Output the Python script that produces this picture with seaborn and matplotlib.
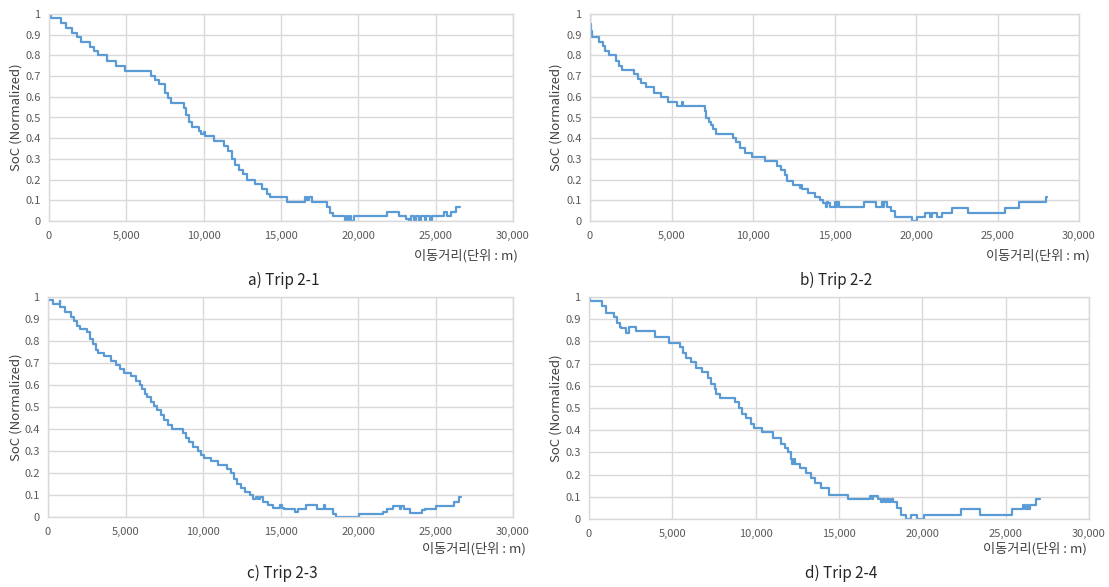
import matplotlib
matplotlib.use("Agg")
import matplotlib.pyplot as plt
import seaborn as sns
import pandas as pd
from matplotlib.ticker import FuncFormatter, MultipleLocator

# ---------------- data (distance in m, normalized SoC) ----------------
trip21_dist = [0, 100, 800, 1080, 1500, 1840, 2060, 2640, 2920, 3200, 3740, 4330, 4930,
               6600, 6880, 7100, 7510, 7680, 7900, 8700, 8870, 9050, 9240, 9700, 9850,
               10000, 10060, 10670, 11300, 11580, 11800, 12010, 12300, 12550, 12810, 13310,
               13740, 14070, 14290, 15370, 16560, 16700, 16780, 17000, 17970, 18180, 18330,
               19160, 19250, 19350, 19450, 19550, 19700, 21860, 22620, 23050, 23300, 23400,
               23600, 23700, 23950, 24050, 24300, 24400, 24650, 24740, 25540, 25750, 25970,
               26300, 26600]
trip21_soc = [1.0, 0.98, 0.955, 0.93, 0.91, 0.89, 0.865, 0.84, 0.82, 0.80, 0.775, 0.75, 0.725,
              0.70, 0.68, 0.66, 0.62, 0.595, 0.57, 0.545, 0.51, 0.48, 0.455, 0.435, 0.42,
              0.43, 0.41, 0.385, 0.36, 0.34, 0.30, 0.27, 0.245, 0.225, 0.20, 0.18,
              0.155, 0.13, 0.115, 0.093, 0.115, 0.10, 0.115, 0.093, 0.07, 0.04, 0.025,
              0.0, 0.025, 0.0, 0.025, 0.0, 0.025, 0.045, 0.025, 0.01, 0.0, 0.025,
              0.0, 0.025, 0.0, 0.025, 0.0, 0.025, 0.0, 0.025, 0.045, 0.025, 0.045,
              0.07, 0.07]

trip22_dist = [0, 30, 80, 150, 530, 780, 920, 1190, 1600, 1800, 1950, 2730, 2970, 3140, 3440,
               3950, 4360, 4770, 5330, 5640, 5680, 7030, 7130, 7270, 7440, 7540, 7750, 8770,
               8975, 9180, 9530, 9940, 10720, 11480, 11740, 11950, 12090, 12460, 12900, 12960,
               13020, 13380, 13790, 14120, 14290, 14490, 14540, 14580, 14730, 15000, 15080,
               15150, 15300, 16820, 17550, 17900, 17980, 18050, 18200, 18450, 18710, 19730,
               20040, 20550, 20860, 20960, 21300, 21570, 22180, 23200, 25450, 26330, 27960,
               28040]
trip22_soc = [1.0, 0.95, 0.92, 0.89, 0.865, 0.845, 0.82, 0.80, 0.775, 0.75, 0.73, 0.71, 0.685,
              0.665, 0.645, 0.62, 0.60, 0.575, 0.555, 0.575, 0.555, 0.53, 0.50, 0.48, 0.465,
              0.445, 0.42, 0.40, 0.38, 0.355, 0.33, 0.31, 0.29, 0.265, 0.245, 0.22, 0.195,
              0.175, 0.16, 0.175, 0.155, 0.135, 0.115, 0.10, 0.085, 0.07, 0.09, 0.085, 0.07,
              0.09, 0.07, 0.09, 0.07, 0.09, 0.07, 0.09, 0.07, 0.09, 0.07, 0.05, 0.02, 0.0,
              0.02, 0.04, 0.02, 0.04, 0.02, 0.04, 0.065, 0.04, 0.065, 0.09, 0.115, 0.115]

trip23_dist = [0, 300, 750, 800, 1080, 1490, 1700, 1880, 2050, 2530, 2740, 2890, 3070, 3240,
               3600, 4040, 4360, 4620, 4900, 5330, 5660, 5940, 6090, 6240, 6410, 6630, 6850,
               7060, 7280, 7490, 7710, 7970, 8680, 8900, 9110, 9370, 9650, 9870, 10090, 10520,
               10950, 11530, 11810, 12030, 12200, 12460, 12680, 13000, 13220, 13450, 13540,
               13700, 13880, 14200, 14530, 14960, 15100, 15210, 15920, 16140, 16630, 17370,
               17800, 17880, 18400, 18570, 20080, 21620, 21880, 22230, 22700, 22800, 22960,
               23340, 24100, 24350, 25060, 26180, 26530, 26630]
trip23_soc = [0.985, 0.97, 0.98, 0.955, 0.93, 0.91, 0.89, 0.87, 0.855, 0.84, 0.81, 0.785, 0.76,
              0.745, 0.73, 0.71, 0.69, 0.675, 0.655, 0.64, 0.62, 0.60, 0.58, 0.56, 0.545,
              0.525, 0.505, 0.485, 0.465, 0.44, 0.42, 0.40, 0.38, 0.36, 0.34, 0.32, 0.30,
              0.28, 0.27, 0.255, 0.235, 0.22, 0.20, 0.175, 0.15, 0.13, 0.115, 0.10, 0.08,
              0.09, 0.08, 0.09, 0.07, 0.055, 0.04, 0.055, 0.04, 0.035, 0.025, 0.035, 0.055,
              0.035, 0.055, 0.035, 0.015, 0.0, 0.015, 0.025, 0.035, 0.05, 0.035, 0.05, 0.035,
              0.02, 0.03, 0.035, 0.05, 0.07, 0.09, 0.09]

trip24_dist = [0, 40, 800, 1040, 1480, 1680, 1840, 1940, 2200, 2400, 2840, 3940, 4780, 5440,
               5640, 5840, 6140, 6440, 6780, 7140, 7300, 7540, 7640, 7840, 8780, 8980, 9180,
               9440, 9700, 9900, 10400, 11040, 11540, 11740, 11940, 12100, 12200, 12280, 12360,
               12640, 13000, 13340, 13540, 13940, 14400, 15540, 16880, 16960, 17050, 17340,
               17540, 17640, 17760, 17880, 18000, 18100, 18240, 18480, 18740, 19040, 19340,
               19680, 20080, 22340, 23440, 25400, 26040, 26150, 26250, 26350, 26440, 26800,
               27040]
trip24_soc = [1.0, 0.98, 0.96, 0.93, 0.91, 0.885, 0.865, 0.86, 0.84, 0.865, 0.845, 0.82, 0.795,
              0.775, 0.75, 0.725, 0.705, 0.68, 0.66, 0.635, 0.61, 0.585, 0.565, 0.545, 0.525,
              0.50, 0.475, 0.455, 0.43, 0.41, 0.39, 0.365, 0.34, 0.32, 0.30, 0.27, 0.25,
              0.27, 0.25, 0.23, 0.205, 0.185, 0.16, 0.14, 0.11, 0.09, 0.105, 0.09, 0.105,
              0.09, 0.075, 0.09, 0.075, 0.09, 0.075, 0.09, 0.075, 0.05, 0.02, 0.0, 0.02,
              0.0, 0.02, 0.045, 0.02, 0.045, 0.065, 0.045, 0.065, 0.045, 0.065, 0.09, 0.09]

captions = ["a) Trip 2-1", "b) Trip 2-2", "c) Trip 2-3", "d) Trip 2-4"]
y_label = "SoC (Normalized)"
x_label = "이동거리(단위 : m)"

# ---------------- style ----------------
sns.set_style("white")
plt.rcParams["font.family"] = ["Noto Sans CJK KR", "DejaVu Sans"]

W, H = 1109, 587
fig = plt.figure(figsize=(W / 100, H / 100), dpi=100)

def box(l, t, r, b):
    return [l / W, 1 - b / H, (r - l) / W, (b - t) / H]

layout = [
    dict(ax=box(49, 14, 513, 221), yl=16, cap=(284, 280), xl=(518, 256)),
    dict(ax=box(590, 14, 1079, 221), yl=556, cap=(836, 280), xl=(1090, 256)),
    dict(ax=box(48, 297, 513, 517), yl=16, cap=(282, 573), xl=(526, 549)),
    dict(ax=box(589, 297, 1089, 519), yl=556, cap=(841, 573), xl=(1087, 549)),
]
series = [(trip21_dist, trip21_soc), (trip22_dist, trip22_soc),
          (trip23_dist, trip23_soc), (trip24_dist, trip24_soc)]

grid_c = "#D9D9D9"
text_c = "#595959"
line_c = "#5B9BD5"

for (dist, soc), lay, cap in zip(series, layout, captions):
    ax = fig.add_axes(lay["ax"])
    df = pd.DataFrame({"dist": dist, "soc": soc})
    sns.lineplot(data=df, x="dist", y="soc", ax=ax, estimator=None, sort=False,
                 drawstyle="steps-post", color=line_c, linewidth=1.6)
    ax.set_xlim(0, 30000)
    ax.set_ylim(0, 1)
    ax.xaxis.set_major_locator(MultipleLocator(5000))
    ax.yaxis.set_major_locator(MultipleLocator(0.1))
    ax.xaxis.set_major_formatter(FuncFormatter(lambda v, p: f"{int(round(v)):,}"))
    ax.yaxis.set_major_formatter(FuncFormatter(lambda v, p: f"{round(v, 1):g}"))
    ax.grid(True, color=grid_c, linewidth=1.0)
    ax.set_axisbelow(True)
    for s in ax.spines.values():
        s.set_color(grid_c)
        s.set_linewidth(1.0)
    ax.tick_params(axis="both", length=0, labelsize=8, labelcolor=text_c)
    ax.tick_params(axis="x", pad=7)
    ax.tick_params(axis="y", pad=6)
    ax.set_xlabel("")
    ax.set_ylabel("")
    l, b, w, h = lay["ax"]
    fig.text(lay["yl"] / W, b + h / 2, y_label, rotation=90, ha="center", va="center",
             fontsize=9.5, color="#404040")
    fig.text(lay["xl"][0] / W, 1 - lay["xl"][1] / H, x_label, ha="right", va="center",
             fontsize=9.5, color="#404040")
    fig.text(lay["cap"][0] / W, 1 - lay["cap"][1] / H, cap, ha="center", va="center",
             fontsize=11, color="#262626")

fig.savefig("out.png", dpi=100)
